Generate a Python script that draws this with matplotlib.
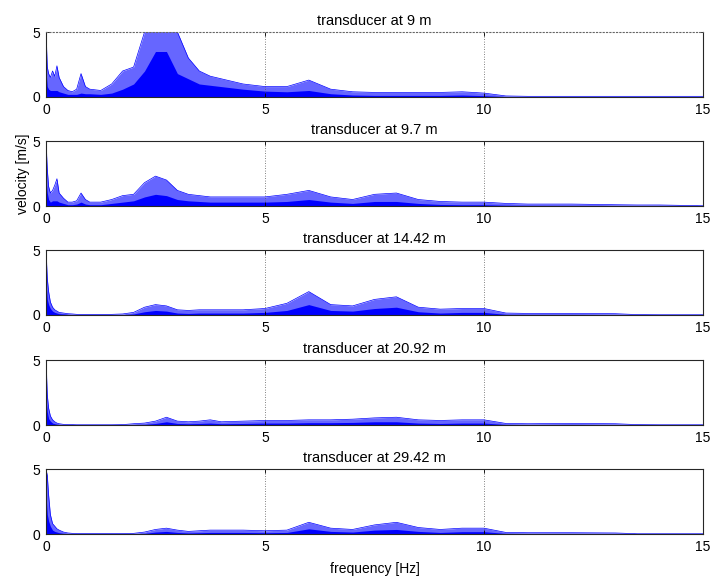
import numpy as np
import matplotlib
matplotlib.use("Agg")
import matplotlib.pyplot as plt

plt.rcParams["font.family"] = ["Liberation Sans", "DejaVu Sans"]
plt.rcParams["font.size"] = 10

freq = [0, 0.03, 0.06, 0.1, 0.15, 0.2, 0.25, 0.3,
        0.4, 0.5, 0.6, 0.7, 0.8, 0.9, 1.0,
        1.25, 1.5, 1.75, 2.0, 2.25, 2.5, 2.75, 3.0,
        3.25, 3.5, 3.75, 4.0, 4.5, 5.0, 5.5, 6.0, 6.5, 7.0,
        7.5, 8.0, 8.5, 9.0, 9.5, 10.0,
        10.5, 11.0, 12.0, 13.0, 13.5, 14.0, 15.0]

titles = ["transducer at 9 m", "transducer at 9.7 m", "transducer at 14.42 m",
          "transducer at 20.92 m", "transducer at 29.42 m"]

# ---- peak (spike tops) and body (dense part) velocity, m/s ----
peak_9 = [5.0, 2.3, 1.8, 1.5, 2.0, 1.6, 2.4, 1.5,
          0.8, 0.5, 0.4, 0.6, 1.8, 0.8, 0.6,
          0.5, 1.0, 2.0, 2.3, 5.0, 5.0, 5.0, 5.0,
          3.0, 2.0, 1.6, 1.4, 1.0, 0.8, 0.8, 1.3, 0.6, 0.4,
          0.35, 0.35, 0.35, 0.35, 0.4, 0.3,
          0.08, 0.05, 0.05, 0.05, 0.05, 0.05, 0.05]
body_9 = [2.0, 0.8, 0.6, 0.5, 0.5, 0.5, 0.5, 0.4,
          0.3, 0.2, 0.2, 0.2, 0.3, 0.25, 0.25,
          0.2, 0.3, 0.6, 1.0, 2.0, 3.5, 3.5, 1.8,
          1.4, 1.0, 0.9, 0.8, 0.6, 0.45, 0.4, 0.5, 0.25, 0.15,
          0.12, 0.12, 0.12, 0.12, 0.15, 0.1,
          0.03, 0.02, 0.02, 0.02, 0.02, 0.02, 0.02]

peak_97 = [5.0, 2.8, 1.5, 1.0, 1.2, 1.6, 2.1, 1.0,
           0.6, 0.3, 0.3, 0.4, 1.0, 0.5, 0.3,
           0.3, 0.5, 0.8, 0.9, 1.8, 2.3, 2.0, 1.2,
           0.9, 0.8, 0.7, 0.7, 0.7, 0.7, 0.9, 1.2, 0.7, 0.5,
           0.9, 1.0, 0.5, 0.35, 0.3, 0.3,
           0.2, 0.15, 0.15, 0.1, 0.08, 0.08, 0.02]
body_97 = [2.0, 1.0, 0.5, 0.3, 0.4, 0.4, 0.4, 0.3,
           0.2, 0.1, 0.1, 0.15, 0.3, 0.15, 0.1,
           0.1, 0.2, 0.3, 0.4, 0.7, 0.9, 0.8, 0.5,
           0.4, 0.35, 0.3, 0.3, 0.3, 0.3, 0.35, 0.5, 0.3, 0.2,
           0.35, 0.35, 0.2, 0.12, 0.1, 0.1,
           0.06, 0.05, 0.04, 0.03, 0.02, 0.02, 0.01]

peak_1442 = [5.0, 2.8, 1.8, 1.0, 0.6, 0.4, 0.3, 0.2,
             0.15, 0.1, 0.08, 0.05, 0.05, 0.05, 0.05,
             0.05, 0.05, 0.08, 0.2, 0.6, 0.8, 0.7, 0.4,
             0.35, 0.4, 0.4, 0.4, 0.4, 0.5, 0.9, 1.8, 0.8, 0.7,
             1.2, 1.4, 0.6, 0.45, 0.5, 0.5,
             0.15, 0.12, 0.12, 0.1, 0.03, 0.02, 0.02]
body_1442 = [2.5, 1.2, 0.8, 0.5, 0.3, 0.2, 0.15, 0.1,
             0.08, 0.05, 0.03, 0.02, 0.02, 0.02, 0.02,
             0.02, 0.02, 0.03, 0.08, 0.25, 0.35, 0.3, 0.15,
             0.12, 0.15, 0.15, 0.15, 0.15, 0.2, 0.35, 0.8, 0.35, 0.3,
             0.5, 0.6, 0.25, 0.15, 0.2, 0.2,
             0.05, 0.04, 0.04, 0.03, 0.01, 0.01, 0.01]

peak_2092 = [5.0, 2.3, 1.3, 0.7, 0.4, 0.25, 0.15, 0.1,
             0.05, 0.04, 0.03, 0.02, 0.02, 0.02, 0.02,
             0.02, 0.02, 0.03, 0.1, 0.15, 0.3, 0.6, 0.3,
             0.25, 0.3, 0.4, 0.25, 0.3, 0.35, 0.35, 0.4, 0.4, 0.45,
             0.55, 0.6, 0.4, 0.35, 0.4, 0.4,
             0.12, 0.1, 0.12, 0.1, 0.03, 0.02, 0.02]
body_2092 = [2.0, 1.0, 0.5, 0.3, 0.15, 0.1, 0.06, 0.04,
             0.02, 0.02, 0.01, 0.01, 0.01, 0.01, 0.01,
             0.01, 0.01, 0.01, 0.03, 0.05, 0.12, 0.25, 0.12,
             0.1, 0.12, 0.15, 0.1, 0.12, 0.15, 0.15, 0.18, 0.18, 0.2,
             0.25, 0.25, 0.15, 0.12, 0.15, 0.15,
             0.04, 0.03, 0.04, 0.03, 0.01, 0.01, 0.01]

peak_2942 = [5.0, 4.5, 3.0, 1.5, 0.8, 0.6, 0.4, 0.3,
             0.15, 0.08, 0.05, 0.04, 0.03, 0.03, 0.03,
             0.03, 0.03, 0.04, 0.05, 0.15, 0.35, 0.45, 0.3,
             0.2, 0.25, 0.3, 0.3, 0.3, 0.25, 0.3, 0.9, 0.45, 0.35,
             0.7, 0.9, 0.5, 0.35, 0.45, 0.45,
             0.12, 0.1, 0.1, 0.08, 0.02, 0.02, 0.02]
body_2942 = [3.0, 1.5, 1.0, 0.6, 0.3, 0.2, 0.15, 0.1,
             0.05, 0.03, 0.02, 0.01, 0.01, 0.01, 0.01,
             0.01, 0.01, 0.01, 0.02, 0.05, 0.15, 0.2, 0.12,
             0.08, 0.1, 0.12, 0.12, 0.12, 0.1, 0.12, 0.4, 0.2, 0.15,
             0.3, 0.35, 0.2, 0.12, 0.18, 0.18,
             0.04, 0.03, 0.03, 0.03, 0.01, 0.01, 0.01]

peaks = [peak_9, peak_97, peak_1442, peak_2092, peak_2942]
bodies = [body_9, body_97, body_1442, body_2092, body_2942]

fig = plt.figure(figsize=(7.13, 5.80), dpi=100)

# axes bottoms in figure fraction
bottoms = [0.8328, 0.6448, 0.4569, 0.2672, 0.0793]

for i in range(5):
    ax = fig.add_axes([0.0645, bottoms[i], 0.9215, 0.112])
    ax.fill_between(freq, 0, peaks[i], color="blue", alpha=0.6, lw=0)
    ax.fill_between(freq, 0, bodies[i], color="blue", lw=0)
    ax.plot(freq, peaks[i], color="blue", lw=0.5)

    ax.set_xlim(0, 15)
    ax.set_ylim(0, 5)
    ax.set_xticks([0, 5, 10, 15])
    ax.set_yticks([0, 5])
    ax.tick_params(direction="in", top=True, right=True, length=3, width=0.6, pad=4)
    ax.grid(axis="x", linestyle=(0, (1, 2)), color="0.35", lw=0.6)
    for s in ax.spines.values():
        s.set_linewidth(0.8)
        s.set_color("0.15")
    ax.set_title(titles[i], fontsize=10.5, pad=5)

    if i == 0:
        ax.spines["top"].set_linestyle((0, (1, 2)))
        ax.spines["top"].set_color("0.4")
    if i == 1:
        ax.set_ylabel("velocity [m/s]", labelpad=2)
    if i == 4:
        ax.set_xlabel("frequency [Hz]", labelpad=6)

plt.savefig("out.png", dpi=100)
